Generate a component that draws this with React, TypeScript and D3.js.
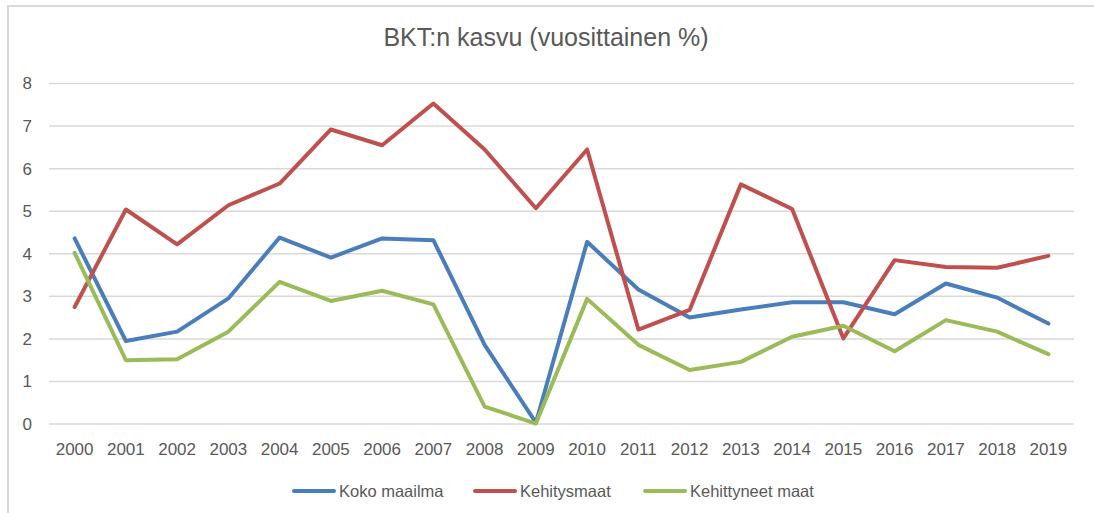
import React from 'react';
import * as d3 from 'd3';

const years = [
  '2000', '2001', '2002', '2003', '2004', '2005', '2006', '2007', '2008', '2009',
  '2010', '2011', '2012', '2013', '2014', '2015', '2016', '2017', '2018', '2019',
];

const kokoMaailma = [4.36, 1.95, 2.17, 2.95, 4.38, 3.91, 4.36, 4.32, 1.86, 0.03, 4.28, 3.16, 2.5, 2.69, 2.86, 2.86, 2.58, 3.3, 2.97, 2.36];
const kehitysmaat = [2.75, 5.04, 4.22, 5.14, 5.65, 6.92, 6.55, 7.53, 6.45, 5.07, 6.45, 2.22, 2.68, 5.63, 5.05, 2.01, 3.85, 3.69, 3.67, 3.95];
const kehittyneetMaat = [4.02, 1.5, 1.52, 2.17, 3.34, 2.89, 3.13, 2.81, 0.41, 0.01, 2.94, 1.86, 1.27, 1.46, 2.05, 2.31, 1.71, 2.44, 2.17, 1.64];

const yTicks = [0, 1, 2, 3, 4, 5, 6, 7, 8];

const series = [
  { name: 'Koko maailma', values: kokoMaailma, color: '#4a7ebb' },
  { name: 'Kehitysmaat', values: kehitysmaat, color: '#c0504d' },
  { name: 'Kehittyneet maat', values: kehittyneetMaat, color: '#9bbb59' },
];

const W = 1094;
const H = 513;
const font = '"Liberation Sans", Arial, sans-serif';
const textColor = '#595959';

const App = () => {
  // scales
  const x = d3.scaleBand<string>().domain(years).range([49, 1074]).padding(0);
  const y = d3.scaleLinear().domain([0, 8]).range([424, 83.5]);
  const cx = (yr: string) => (x(yr) ?? 0) + x.bandwidth() / 2;

  const line = d3.line<number>()
    .x((_, i) => cx(years[i]))
    .y(d => y(d));

  // legend layout
  const legendX = [292, 473, 643];
  const legendY = 491;

  return (
    <svg width={W} height={H} style={{ position: 'absolute', left: 0, top: 0, background: '#fff' }}>
      {/* chart border */}
      <rect x={8} y={6} width={W + 10} height={H + 10} fill="#fff" stroke="#d9d9d9" strokeWidth={2} />

      {/* title */}
      <text x={546} y={46} textAnchor="middle" fontFamily={font} fontSize={25} fill={textColor}>
        BKT:n kasvu (vuosittainen %)
      </text>

      {/* gridlines + y labels */}
      {yTicks.map(t => (
        <g key={t}>
          <line x1={49} x2={1074} y1={y(t)} y2={y(t)} stroke="#d9d9d9" strokeWidth={1.5} />
          <text x={32} y={y(t)} dy="0.35em" textAnchor="end" fontFamily={font} fontSize={17} fill={textColor}>
            {t}
          </text>
        </g>
      ))}

      {/* x labels */}
      {years.map(yr => (
        <text key={yr} x={cx(yr)} y={455} textAnchor="middle" fontFamily={font} fontSize={17} fill={textColor}>
          {yr}
        </text>
      ))}

      {/* series lines */}
      {series.map(s => (
        <path
          key={s.name}
          d={line(s.values) ?? ''}
          fill="none"
          stroke={s.color}
          strokeWidth={4}
          strokeLinejoin="round"
          strokeLinecap="round"
        />
      ))}

      {/* legend */}
      {series.map((s, i) => (
        <g key={s.name} transform={`translate(${legendX[i]},${legendY})`}>
          <line x1={2} x2={42} y1={0} y2={0} stroke={s.color} strokeWidth={4} strokeLinecap="round" />
          <text x={47} y={0} dy="0.35em" fontFamily={font} fontSize={16.5} fill={textColor}>
            {s.name}
          </text>
        </g>
      ))}
    </svg>
  );
};

export default App;
